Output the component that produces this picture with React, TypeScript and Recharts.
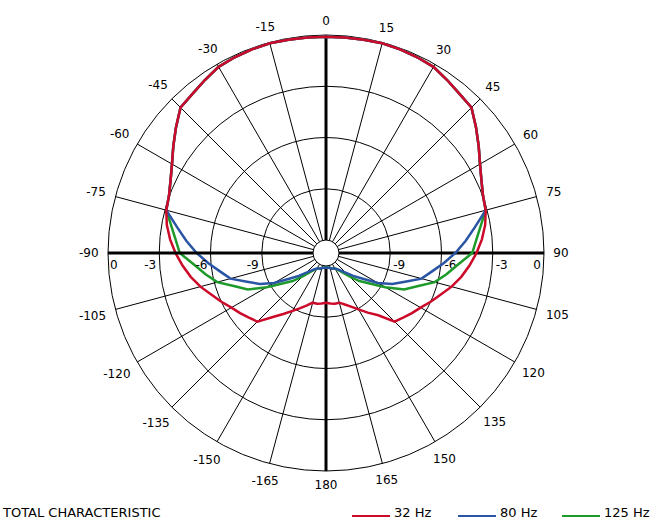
import React from 'react';
import { RadarChart, Radar, PolarGrid, PolarAngleAxis, PolarRadiusAxis, Legend } from 'recharts';

const angles = [
  -180, -175, -170, -165, -160, -155, -150, -145, -140, -135, -130, -125, -120, -115, -110, -105, -100, -95, -90,
  -85, -80, -75, -70, -65, -60, -55, -50, -45, -40, -35, -30, -25, -20, -15, -10, -5, 0,
  5, 10, 15, 20, 25, 30, 35, 40, 45, 50, 55, 60, 65, 70, 75, 80, 85, 90,
  95, 100, 105, 110, 115, 120, 125, 130, 135, 140, 145, 150, 155, 160, 165, 170, 175, 180,
];

const hz32 = [
  -9.85, -9.8, -9.75, -9.75, -9.5, -9.2, -8.85, -8.4, -7.85, -7.08, -6.87, -6.62, -6.37, -6.0, -5.63, -5.15, -4.72, -4.33, -3.95,
  -3.6, -3.3, -3.08, -2.98, -2.72, -2.35, -1.85, -1.3, -0.72, -0.6, -0.4, -0.18, -0.12, -0.08, -0.05, -0.08, -0.1, -0.1,
  -0.1, -0.08, -0.05, -0.08, -0.12, -0.18, -0.4, -0.6, -0.72, -1.3, -1.85, -2.35, -2.72, -2.98, -3.08, -3.3, -3.6, -3.95,
  -4.33, -4.72, -5.15, -5.63, -6.0, -6.37, -6.62, -6.87, -7.08, -8.0, -8.5, -8.95, -9.3, -9.55, -9.75, -9.75, -9.8, -9.85,
];

const hz80 = [
  -11.9, -11.9, -11.88, -11.85, -11.78, -11.76, -11.72, -11.61, -11.41, -11.14, -10.68, -10.13, -9.25, -8.48, -7.84, -6.97, -6.48, -5.85, -5.19,
  -4.55, -3.89, -3.08, -2.98, -2.72, -2.35, -1.85, -1.3, -0.72, -0.6, -0.4, -0.18, -0.12, -0.08, -0.05, -0.08, -0.1, -0.1,
  -0.1, -0.08, -0.05, -0.08, -0.12, -0.18, -0.4, -0.6, -0.72, -1.3, -1.85, -2.35, -2.72, -2.98, -3.08, -3.89, -4.55, -5.19,
  -5.85, -6.48, -6.97, -7.84, -8.48, -9.25, -10.13, -10.68, -11.14, -11.41, -11.61, -11.72, -11.76, -11.78, -11.85, -11.88, -11.9, -11.9,
];

const hz125 = [
  -11.91, -11.91, -11.89, -11.86, -11.8, -11.76, -11.7, -11.55, -11.3, -10.82, -10.21, -9.64, -8.75, -7.71, -7.08, -6.17, -5.6, -5.0, -4.2,
  -3.93, -3.56, -3.08, -2.98, -2.72, -2.35, -1.85, -1.3, -0.72, -0.6, -0.4, -0.18, -0.12, -0.08, -0.05, -0.08, -0.1, -0.1,
  -0.1, -0.08, -0.05, -0.08, -0.12, -0.18, -0.4, -0.6, -0.72, -1.3, -1.85, -2.35, -2.72, -2.98, -3.08, -3.56, -3.93, -4.2,
  -5.0, -5.6, -6.17, -7.08, -7.71, -8.75, -9.64, -10.21, -10.82, -11.3, -11.55, -11.7, -11.76, -11.8, -11.86, -11.89, -11.91, -11.91,
];

const angleTicks = [-165, -150, -135, -120, -105, -90, -75, -60, -45, -30, -15, 0, 15, 30, 45, 60, 75, 90, 105, 120, 135, 150, 165, 180];
const levelTicks = [-12, -9, -6, -3, 0];
const levelLabels = [-9, -6, -3, 0];

const seriesNames = ['32 Hz', '80 Hz', '125 Hz'];
const seriesColors = ['#cc0a2a', '#2a55a5', '#1e9a2a'];

const data = angles.map((a, i) => ({ angle: a, s32: hz32[i], s80: hz80[i], s125: hz125[i] }));

const FONT = '"DejaVu Sans", Verdana, sans-serif';
const W = 653;
const H = 521;
const CX = 326;
const CY = 253;
const R_IN = 13;
const R_OUT = 218;

const AngleTick = (props: any) => {
  const { x, y, payload } = props;
  const label = String(payload.value);
  const coord = typeof payload.coordinate === 'number' ? payload.coordinate : 90 - payload.value;
  const a = (coord * Math.PI) / 180;
  const ux = Math.cos(a);
  const uy = -Math.sin(a);
  const digits = label.replace('-', '').length;
  const w = digits * 7.5 + (label.startsWith('-') ? 4.5 : 0);
  const h = 9;
  const ext = 1.5 + (w / 2) * Math.abs(ux) + (h / 2) * Math.abs(uy);
  return (
    <text x={x + ux * ext} y={y + uy * ext + 4.4} textAnchor="middle" fill="#000" fontSize={12} fontFamily={FONT}>
      {label}
    </text>
  );
};

const makeLevelTick = (side: 'left' | 'right') => (props: any) => {
  const { x, y, payload } = props;
  const v = payload.value;
  if (!levelLabels.includes(v)) return <g />;
  let anchor: 'start' | 'end' = 'end';
  let tx = x;
  if (side === 'left') {
    if (v === 0) { anchor = 'start'; tx = x + 2; } else { anchor = 'end'; tx = x - 3; }
  } else {
    if (v === 0) { anchor = 'end'; tx = x - 3; } else { anchor = 'start'; tx = x + 3; }
  }
  return (
    <text x={tx} y={y + 15.5} textAnchor={anchor} fill="#000" fontSize={12} fontFamily={FONT}>
      {String(v)}
    </text>
  );
};

const LegendContent = () => (
  <svg width={653} height={21} style={{ display: 'block' }}>
    <text x={3} y={17} fontSize={13} fontFamily={FONT} fill="#000">TOTAL CHARACTERISTIC</text>
    {seriesNames.map((n, i) => {
      const x0 = [352, 458, 562][i];
      return (
        <g key={n}>
          <line x1={x0} y1={16} x2={x0 + 38} y2={16} stroke={seriesColors[i]} strokeWidth={2} />
          <text x={x0 + 42} y={17} fontSize={13} fontFamily={FONT} fill="#000">{n}</text>
        </g>
      );
    })}
  </svg>
);

// Chart layer that only draws one bold radial axis (optionally with level labels); placed beneath the curves
const AxisLayer = ({ angle, side }: { angle: number; side?: 'left' | 'right' }) => (
  <div style={{ position: 'absolute', left: 0, top: 0, pointerEvents: 'none' }}>
    <RadarChart
      width={W}
      height={H}
      data={data}
      cx={CX}
      cy={CY}
      innerRadius={R_IN}
      outerRadius={R_OUT}
      startAngle={270}
      endAngle={-90}
      margin={{ top: 0, right: 0, bottom: 0, left: 0 }}
    >
      <PolarAngleAxis dataKey="angle" type="number" domain={[-180, 180]} tick={false} axisLine={false} tickLine={false} />
      <PolarRadiusAxis
        angle={angle}
        type="number"
        domain={[-12, 0]}
        ticks={levelTicks as any}
        tick={side ? makeLevelTick(side) : false}
        axisLine={{ stroke: '#000', strokeWidth: 3 }}
        tickLine={false}
      />
      <Radar dataKey="s32" stroke="none" fill="none" fillOpacity={0} strokeOpacity={0} dot={false} isAnimationActive={false} />
    </RadarChart>
  </div>
);

export default function App() {
  return (
    <div style={{ position: 'absolute', left: 0, top: 0, width: W, height: H, background: '#fff' }}>
      <AxisLayer angle={0} side="right" />
      <AxisLayer angle={90} />
      <AxisLayer angle={270} />
      <div style={{ position: 'absolute', left: 0, top: 0 }}>
        <RadarChart
          width={W}
          height={H}
          data={data}
          cx={CX}
          cy={CY}
          innerRadius={R_IN}
          outerRadius={R_OUT}
          startAngle={270}
          endAngle={-90}
          margin={{ top: 0, right: 0, bottom: 0, left: 0 }}
        >
          <PolarGrid gridType="circle" stroke="#000" strokeWidth={1} strokeOpacity={1} />
          <PolarAngleAxis
            dataKey="angle"
            type="number"
            domain={[-180, 180]}
            ticks={angleTicks as any}
            tick={AngleTick}
            axisLine={false}
            tickLine={false}
          />
          <PolarRadiusAxis
            angle={180}
            type="number"
            domain={[-12, 0]}
            ticks={levelTicks as any}
            tick={makeLevelTick('left')}
            axisLine={{ stroke: '#000', strokeWidth: 3 }}
            tickLine={false}
          />
          <Radar dataKey="s125" name={seriesNames[2]} stroke={seriesColors[2]} strokeWidth={2.5} fill="none" fillOpacity={0} dot={false} isAnimationActive={false} />
          <Radar dataKey="s80" name={seriesNames[1]} stroke={seriesColors[1]} strokeWidth={2.5} fill="none" fillOpacity={0} dot={false} isAnimationActive={false} />
          <Radar dataKey="s32" name={seriesNames[0]} stroke={seriesColors[0]} strokeWidth={2.5} fill="none" fillOpacity={0} dot={false} isAnimationActive={false} />
          <Legend content={LegendContent} wrapperStyle={{ position: 'absolute', left: 0, top: 500, width: 653, height: 21 }} />
        </RadarChart>
      </div>
    </div>
  );
}
